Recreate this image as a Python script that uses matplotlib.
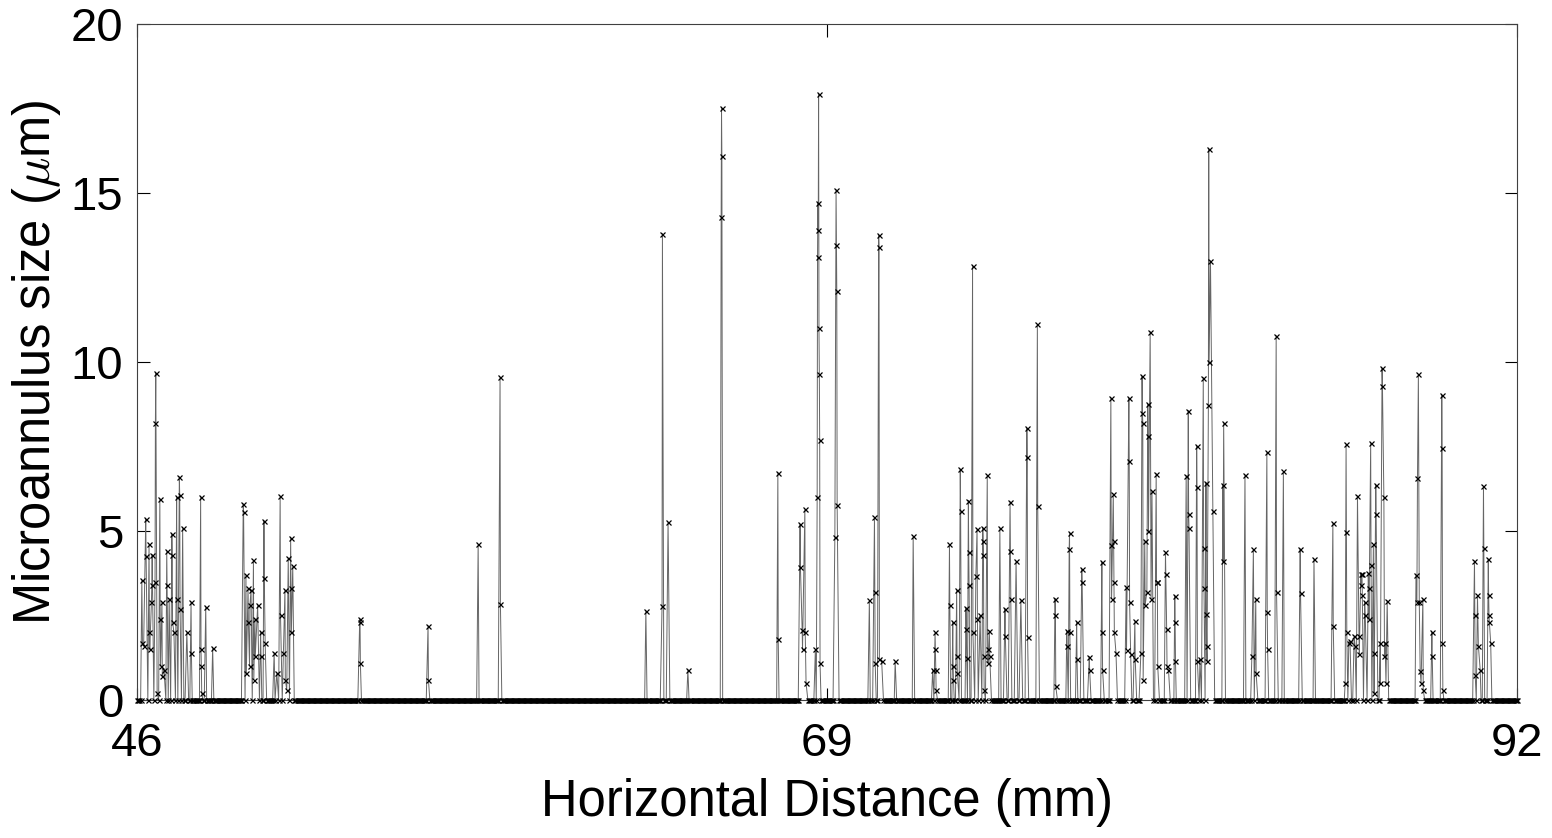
import numpy as np
import matplotlib
matplotlib.use("Agg")
import matplotlib.pyplot as plt

plt.rcParams["font.family"] = ["Liberation Sans", "DejaVu Sans"]
plt.rcParams["mathtext.fontset"] = "cm"

# measurement grid (mm) and spacing of consecutive non-zero readings
x_min, x_max = 46.0, 92.0
grid_step = 0.04
burst_step = 0.012

# non-zero readings: start position (mm) and consecutive values (um)
burst_start = [
    46.16, 46.18, 46.22, 46.29, 46.40, 46.48, 46.60, 46.67, 46.76, 46.83,
    46.90, 46.99, 47.07, 47.16, 47.23, 47.32, 47.41, 47.52, 47.66, 47.80,
    48.12, 48.29, 48.52,
    49.54, 49.63, 49.70, 49.75, 49.80, 49.88, 49.93, 50.02, 50.12, 50.23,
    50.27, 50.57, 50.66, 50.77, 50.88, 50.93, 50.99, 51.04, 51.12, 51.19,
    53.42, 55.70, 57.37, 58.10,
    62.96, 63.50, 63.70, 64.36, 65.47, 67.36,
    68.10, 68.17, 68.26, 68.30, 68.61, 68.67, 69.26, 69.30,
    70.41, 70.58, 70.72, 70.82, 71.27, 71.87,
    72.52, 72.60, 73.08, 73.19, 73.32, 73.44, 73.63, 73.71, 73.85, 73.96,
    74.00, 74.10, 74.19, 74.34, 74.41, 74.76, 74.93, 75.10, 75.30, 75.46,
    75.66, 76.01, 76.60, 76.99, 77.07, 77.32, 77.49, 77.74,
    78.16, 78.46, 78.54, 78.63, 78.97, 79.06, 79.12, 79.26, 79.46, 79.50,
    79.59, 79.66, 79.69, 79.77, 79.80, 79.83, 79.97, 80.01, 80.28, 80.32,
    80.38, 80.59, 80.97, 81.04, 81.32, 81.43, 81.54, 81.63, 81.71, 81.78,
    81.86, 82.19, 82.22, 82.93, 83.16, 83.21, 83.29, 83.66, 83.97, 84.21,
    84.77, 85.23, 85.86, 86.27, 86.30, 86.39, 86.43, 86.57, 86.60, 86.68,
    86.73, 86.79, 86.83, 86.92, 86.94, 87.04, 87.12, 87.21, 87.29, 87.43,
    87.50, 87.56, 87.58, 87.60, 87.63, 87.67,
    88.63, 88.66, 88.68, 88.71, 88.74, 88.77, 88.80, 88.86, 89.16, 89.49,
    90.58, 90.68, 90.71, 90.77, 90.88, 91.04, 91.12,
]
burst_values = [
    [3.55], [1.7], [1.6], [5.35, 4.26], [4.6, 2.0, 1.5], [2.9, 3.4, 4.3],
    [3.5, 8.2, 9.67], [0.2], [5.95, 2.4, 1.0], [2.9, 0.7],
    [0.9], [4.4, 3.4], [3.0], [4.9, 4.3, 2.3], [2.0], [6.0, 3.0],
    [6.6, 6.05, 2.7], [5.1], [2.0], [2.9, 1.4],
    [6.0, 1.5, 1.0, 0.2], [2.75], [1.53],
    [5.8, 5.55], [3.7, 0.8], [3.3, 2.3], [1.0, 2.8], [3.25], [4.14, 0.6],
    [2.4, 1.3], [2.8], [2.0, 1.3], [5.3, 3.6],
    [1.7], [1.4], [0.8], [6.03, 2.5], [1.4], [3.25, 0.6], [0.3], [4.2],
    [4.8, 3.3, 2.0], [3.95],
    [2.3, 2.4, 1.1], [2.2, 0.6], [4.6], [9.55, 2.85],
    [2.64], [2.78, 13.8], [5.26], [0.9], [14.3, 17.5, 16.1], [6.73, 1.8],
    [5.2, 3.94], [2.07, 1.5], [5.64, 2.0], [0.5], [1.5],
    [6.0, 13.1, 14.7, 13.9, 17.94, 11.0, 9.64, 7.7, 1.08], [4.83],
    [15.1, 13.45, 12.1, 5.78],
    [2.95], [5.41, 3.2, 1.1], [13.75, 13.4, 1.2], [1.15], [1.15], [4.85],
    [0.9], [2.0, 1.5, 0.9, 0.3], [4.6, 2.8], [2.3, 1.0, 0.6], [3.25, 1.3, 0.8],
    [6.83, 5.6], [2.73, 2.1, 1.25], [5.9, 4.37, 3.4], [12.85, 2.0], [3.67],
    [5.06, 2.4], [2.5], [5.1, 4.7, 4.3, 1.3, 0.3], [6.65, 1.5, 1.1],
    [2.05, 1.3], [5.08], [2.7, 1.9], [5.87, 4.4, 3.0], [4.1], [2.96],
    [8.04, 7.2, 1.85], [11.12, 5.74], [3.0, 2.5, 0.4], [2.05, 1.6],
    [4.46, 4.95, 2.0], [2.3, 1.2], [3.87, 3.5], [1.28, 0.9],
    [4.08, 2.0, 0.9], [8.94, 4.58, 3.0], [6.1, 4.7, 3.5, 2.0], [1.4],
    [3.34, 1.48], [8.93, 7.08, 2.9], [1.35], [2.34, 1.2], [1.4],
    [9.58, 8.5, 8.2, 0.6],
    [4.7, 2.8], [3.2], [8.75, 7.8, 5.0], [10.9], [3.0], [6.18], [6.7, 3.5],
    [3.5, 1.0], [4.38, 3.74], [2.1, 1.0],
    [0.9], [3.09, 2.3, 1.15], [6.64], [8.56, 5.5, 5.1], [7.52, 6.3, 1.15],
    [1.2], [9.54, 4.5, 3.3], [6.43, 2.55, 1.6, 1.15], [8.73, 16.3, 10.0], [13.0],
    [5.6], [6.36, 4.1], [8.2], [6.66], [1.3], [4.46], [3.0, 0.8],
    [7.33, 2.6, 1.5], [10.78, 3.2], [6.76],
    [4.47, 3.16], [4.17], [5.23, 2.2], [0.5], [7.57, 4.96, 2.0], [1.7], [1.75],
    [1.9], [1.6], [6.04],
    [1.9, 1.35], [3.72, 3.4], [3.72, 3.1], [2.9], [2.5], [3.75, 3.3, 2.4],
    [7.6, 4.0], [4.6, 1.4, 0.2], [6.36, 5.5], [1.7, 0.5],
    [9.82, 9.3], [6.0], [1.3], [1.7], [0.5], [2.94],
    [3.7], [2.9], [6.56], [9.64], [2.9], [0.85], [0.5], [3.0, 0.3],
    [2.0, 1.3], [9.02, 7.46, 1.7, 0.3],
    [4.12, 2.5, 0.75], [3.1], [1.6], [0.9], [6.33, 4.5], [4.17, 3.1, 2.5, 2.3],
    [1.7],
]

# build the full trace: non-zero bursts plus zero readings on the grid
bx, by = [], []
for start, vals in zip(burst_start, burst_values):
    for k, v in enumerate(vals):
        bx.append(start + k * burst_step)
        by.append(v)
bx = np.array(bx)
by = np.array(by)

grid = np.arange(x_min, x_max + grid_step / 2, grid_step)
near = np.min(np.abs(grid[:, None] - bx[None, :]), axis=1) < 0.025
zx = grid[~near]

x = np.concatenate([bx, zx])
y = np.concatenate([by, np.zeros_like(zx)])
order = np.argsort(x, kind="stable")
x, y = x[order], y[order]

fig = plt.figure(figsize=(15.52, 8.38), dpi=100)
ax = fig.add_axes([0.0883, 0.1647, 0.8892, 0.8067])

ax.plot(x, y, color="0.4", linewidth=0.7, zorder=2, clip_on=False)
ax.plot(x, y, linestyle="none", marker="x", markersize=3.6,
        markeredgewidth=0.9, markeredgecolor="black", zorder=3, clip_on=False)

ax.set_xlim(x_min, x_max)
ax.set_ylim(0, 20)
ax.set_xticks([46, 69, 92])
ax.set_yticks([0, 5, 10, 15, 20])
ax.tick_params(direction="in", length=9, width=0.8, labelsize=34,
               top=True, right=True, colors="black")
ax.tick_params(axis="x", pad=16)
ax.tick_params(axis="y", pad=10)
for spine in ax.spines.values():
    spine.set_linewidth(0.8)
    spine.set_color("0.25")

ax.set_xlabel("Horizontal Distance (mm)", fontsize=36.5)
ax.set_ylabel(r"Microannulus size ($\mu$m)", fontsize=36.5)
ax.xaxis.set_label_coords(0.5, -0.115)
ax.yaxis.set_label_coords(-0.054, 0.5)

fig.savefig("out.png", dpi=100, facecolor="white")
